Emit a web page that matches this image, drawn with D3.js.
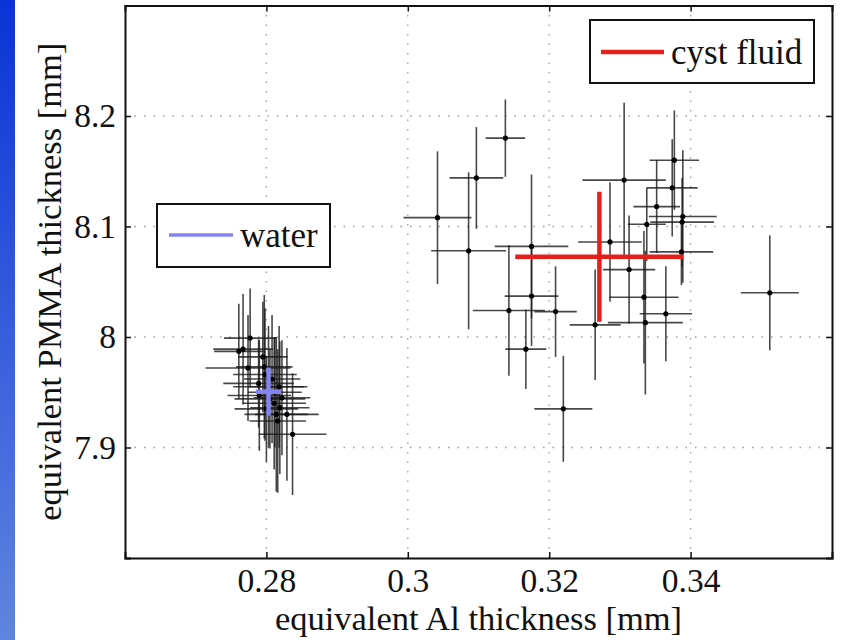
<!DOCTYPE html>
<html><head><meta charset="utf-8">
<script src="https://cdn.jsdelivr.net/npm/d3@7"></script>
<style>body{margin:0;background:#fff}svg{display:block}</style>
</head><body>
<svg id="c" width="843" height="640"></svg>
<script>
// ---- data ----
const xTicks = [0.28, 0.30, 0.32, 0.34];
const xTickLabels = ["0.28", "0.3", "0.32", "0.34"];
const yTicks = [7.9, 8.0, 8.1, 8.2];
const yTickLabels = ["7.9", "8", "8.1", "8.2"];
const xDomain = [0.26, 0.36];
const yDomain = [7.8, 8.3];

// cyst fluid samples: Al thickness, PMMA thickness, Al error, PMMA error
const cystX  = [0.3042,0.3097,0.3138,0.3086,0.3175,0.3286,0.3306,0.3377,0.3374,0.3352,0.3389,0.3388,0.3338,0.3387,0.3313,0.3334,0.3365,0.3336,0.3265,0.3175,0.3143,0.3209,0.3167,0.3220,0.3512];
const cystY  = [8.108,8.144,8.180,8.078,8.082,8.086,8.142,8.160,8.135,8.118,8.109,8.104,8.102,8.077,8.061,8.036,8.021,8.013,8.011,8.037,8.024,8.023,7.989,7.935,8.040];
const cystXe = [0.0048,0.0038,0.0028,0.0053,0.0052,0.0045,0.0059,0.0035,0.0036,0.0033,0.0048,0.0045,0.0027,0.0045,0.0037,0.0049,0.0037,0.0053,0.0036,0.0038,0.0051,0.0030,0.0029,0.0041,0.0041];
const cystYe = [0.060,0.046,0.035,0.071,0.065,0.054,0.070,0.045,0.044,0.042,0.060,0.040,0.033,0.030,0.049,0.060,0.043,0.065,0.050,0.045,0.059,0.041,0.036,0.048,0.052];

// water samples
const waterX  = [0.2777,0.2767,0.2761,0.2774,0.2797,0.2798,0.2789,0.2790,0.2803,0.2808,0.2811,0.2819,0.2816,0.2829,0.2837,0.2805,0.2812,0.2800,0.2822,0.2814,0.2795,0.2818];
const waterY  = [7.999,7.989,7.987,7.972,7.973,7.966,7.958,7.947,7.955,7.962,7.940,7.936,7.924,7.930,7.912,7.944,7.950,7.935,7.945,7.930,7.982,7.955];
const waterXe = [0.0037,0.0042,0.0035,0.0060,0.0040,0.0045,0.0050,0.0045,0.0050,0.0040,0.0045,0.0042,0.0040,0.0045,0.0048,0.0050,0.0038,0.0045,0.0040,0.0045,0.0035,0.0040];
const waterYe = [0.045,0.050,0.043,0.048,0.065,0.060,0.040,0.050,0.055,0.058,0.060,0.060,0.065,0.060,0.055,0.045,0.050,0.048,0.052,0.070,0.050,0.055];

// means
const cystMean  = {x: 0.3271, y: 8.0727, xe: 0.0119, ye: 0.0588};
const waterMean = {x: 0.2803, y: 7.9505, xe: 0.0018, ye: 0.0218};

const legendNames = ["water", "cyst fluid"];

// ---- drawing ----
const svg = d3.select("#c");
const L = 125, R = 832, T = 5.5, B = 558;
const x = d3.scaleLinear().domain(xDomain).range([L, R]);
const y = d3.scaleLinear().domain(yDomain).range([B, T]);

const defs = svg.append("defs");
const gr = defs.append("linearGradient").attr("id","bg").attr("x1",0).attr("y1",0).attr("x2",0).attr("y2",1);
gr.append("stop").attr("offset","0%").attr("stop-color","#0b33d6");
gr.append("stop").attr("offset","100%").attr("stop-color","#5f85e0");
svg.append("rect").attr("x",0).attr("y",0).attr("width",843).attr("height",640).attr("fill","#fff");
svg.append("rect").attr("x",0).attr("y",0).attr("width",15).attr("height",640).attr("fill","url(#bg)");

// grid
const grid = svg.append("g").attr("stroke","#9a9a9a").attr("stroke-width",1.3).attr("stroke-dasharray","1.5,8");
grid.selectAll(".vx").data(xTicks).join("line")
  .attr("x1",d=>x(d)).attr("x2",d=>x(d)).attr("y1",T).attr("y2",B);
grid.selectAll(".hy").data(yTicks).join("line")
  .attr("y1",d=>y(d)).attr("y2",d=>y(d)).attr("x1",L).attr("x2",R);

// error bars
function drawSet(X, Y, XE, YE) {
  const g = svg.append("g").attr("stroke","#1a1a1a").attr("stroke-opacity",0.8).attr("stroke-width",1.6);
  const idx = d3.range(X.length);
  g.selectAll(".h").data(idx).join("line")
    .attr("x1",i=>x(X[i]-XE[i])).attr("x2",i=>x(X[i]+XE[i]))
    .attr("y1",i=>y(Y[i])).attr("y2",i=>y(Y[i]));
  g.selectAll(".v").data(idx).join("line")
    .attr("x1",i=>x(X[i])).attr("x2",i=>x(X[i]))
    .attr("y1",i=>y(Y[i]-YE[i])).attr("y2",i=>y(Y[i]+YE[i]));
  svg.append("g").selectAll("circle").data(idx).join("circle")
    .attr("cx",i=>x(X[i])).attr("cy",i=>y(Y[i])).attr("r",2.6).attr("fill","#000");
}
drawSet(waterX, waterY, waterXe, waterYe);
drawSet(cystX, cystY, cystXe, cystYe);

function drawMean(m, color, w) {
  const g = svg.append("g").attr("stroke",color).attr("stroke-width",w);
  g.append("line").attr("x1",x(m.x-m.xe)).attr("x2",x(m.x+m.xe)).attr("y1",y(m.y)).attr("y2",y(m.y));
  g.append("line").attr("x1",x(m.x)).attr("x2",x(m.x)).attr("y1",y(m.y-m.ye)).attr("y2",y(m.y+m.ye));
}
drawMean(waterMean, "#8585f2", 4.5);
drawMean(cystMean, "#e5201b", 4.5);

// axes (box with inward ticks)
const fontFam = "'Liberation Serif','Times New Roman',serif";
const axB = svg.append("g").attr("transform",`translate(0,${B})`)
  .call(d3.axisBottom(x).tickValues(xTicks).tickSize(-6).tickFormat((d,i)=>xTickLabels[i]).tickPadding(10));
const axT = svg.append("g").attr("transform",`translate(0,${T})`)
  .call(d3.axisTop(x).tickValues(xTicks).tickSize(-6).tickFormat(""));
const axL = svg.append("g").attr("transform",`translate(${L},0)`)
  .call(d3.axisLeft(y).tickValues(yTicks).tickSize(-6).tickFormat((d,i)=>yTickLabels[i]).tickPadding(9));
const axR = svg.append("g").attr("transform",`translate(${R},0)`)
  .call(d3.axisRight(y).tickValues(yTicks).tickSize(-6).tickFormat(""));
[axB,axT,axL,axR].forEach(a=>{
  a.select(".domain").attr("stroke","#111").attr("stroke-width",2);
  a.selectAll(".tick line").attr("stroke","#111").attr("stroke-width",1.5);
  a.selectAll("text").attr("font-family",fontFam).attr("font-size",33.5).attr("fill","#111");
});
axB.selectAll("text").attr("dy","0.71em");

// axis titles
svg.append("text").attr("x",(L+R)/2).attr("y",630).attr("text-anchor","middle")
  .attr("font-family",fontFam).attr("font-size",34.5).attr("fill","#111")
  .text("equivalent Al thickness [mm]");
svg.append("text").attr("transform",`translate(61,${(T+B)/2}) rotate(-90)`).attr("text-anchor","middle")
  .attr("font-family",fontFam).attr("font-size",34.5).attr("fill","#111")
  .text("equivalent PMMA thickness [mm]");

// legends
function legend(bx, by, bw, bh, lx1, lx2, ly, color, lw, tx, ty, label) {
  const g = svg.append("g");
  g.append("rect").attr("x",bx).attr("y",by).attr("width",bw).attr("height",bh)
    .attr("fill","#fff").attr("stroke","#111").attr("stroke-width",2);
  g.append("line").attr("x1",lx1).attr("x2",lx2).attr("y1",ly).attr("y2",ly)
    .attr("stroke",color).attr("stroke-width",lw);
  g.append("text").attr("x",tx).attr("y",ty).attr("font-family",fontFam).attr("font-size",35)
    .attr("fill","#111").text(label);
}
legend(157, 204, 173, 63, 169, 233, 235, "#8585f2", 3.5, 240, 247, legendNames[0]);
legend(590, 20, 224, 63, 601, 664, 52, "#e5201b", 4.5, 671, 64, legendNames[1]);
</script>
</body></html>
